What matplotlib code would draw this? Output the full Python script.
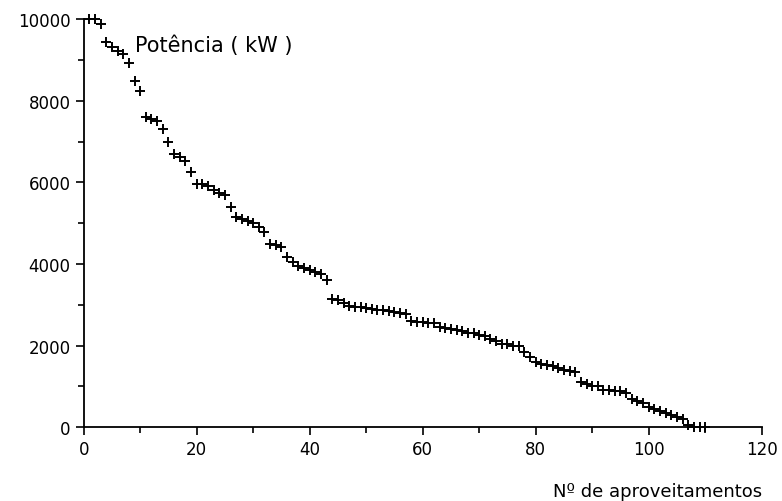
import numpy as np
import matplotlib.pyplot as plt

# Potência ordenada (kW) dos aproveitamentos
potencia = [
    10000, 10000, 9880, 9440, 9310, 9220, 9140, 8920, 8480, 8240,
    7600, 7550, 7500, 7300, 6980, 6690, 6620, 6520, 6250, 5960,
    5950, 5900, 5800, 5750, 5700, 5400, 5150, 5100, 5050, 5000,
    4900, 4780, 4500, 4470, 4420, 4170, 4050, 3950, 3900, 3850,
    3800, 3750, 3600, 3150, 3120, 3050, 2970, 2950, 2940, 2920,
    2900, 2880, 2860, 2840, 2820, 2800, 2770, 2600, 2580, 2570,
    2560, 2550, 2450, 2420, 2400, 2380, 2350, 2320, 2300, 2270,
    2230, 2150, 2100, 2050, 2030, 2000, 1990, 1850, 1720, 1600,
    1550, 1520, 1500, 1450, 1400, 1380, 1350, 1100, 1050, 1000,
    1000, 900, 900, 880, 880, 850, 700, 650, 600, 500,
    450, 400, 350, 300, 250, 200, 50, 0, 0, 0,
]
n_aprov = np.arange(1, len(potencia) + 1)

x_ticks = [0, 20, 40, 60, 80, 100, 120]
y_ticks = [0, 2000, 4000, 6000, 8000, 10000]

fig = plt.figure(figsize=(7.82, 5.02), dpi=100)
ax = fig.add_axes([0.107, 0.147, 0.867, 0.813])

ax.plot(n_aprov, potencia, linestyle='none', marker='+', color='black',
        markersize=6.5, markeredgewidth=1.4, clip_on=False)

ax.set_xlim(0, 120)
ax.set_ylim(0, 10000)
ax.set_xticks(x_ticks)
ax.set_yticks(y_ticks)
ax.set_xticks(np.arange(10, 120, 20), minor=True)
ax.set_yticks(np.arange(1000, 10000, 2000), minor=True)

for s in ['top', 'right']:
    ax.spines[s].set_visible(False)
for s in ['left', 'bottom']:
    ax.spines[s].set_linewidth(1.3)

ax.tick_params(which='both', direction='out', width=1.2, labelsize=12)
ax.tick_params(which='major', length=6)
ax.tick_params(which='minor', length=4)

ax.text(0.075, 0.938, 'Potência ( kW )', transform=ax.transAxes,
        fontsize=15, ha='left', va='center')
fig.text(0.975, 0.002, 'Nº de aproveitamentos', fontsize=13,
         ha='right', va='bottom')

fig.savefig('out.png', dpi=100)
